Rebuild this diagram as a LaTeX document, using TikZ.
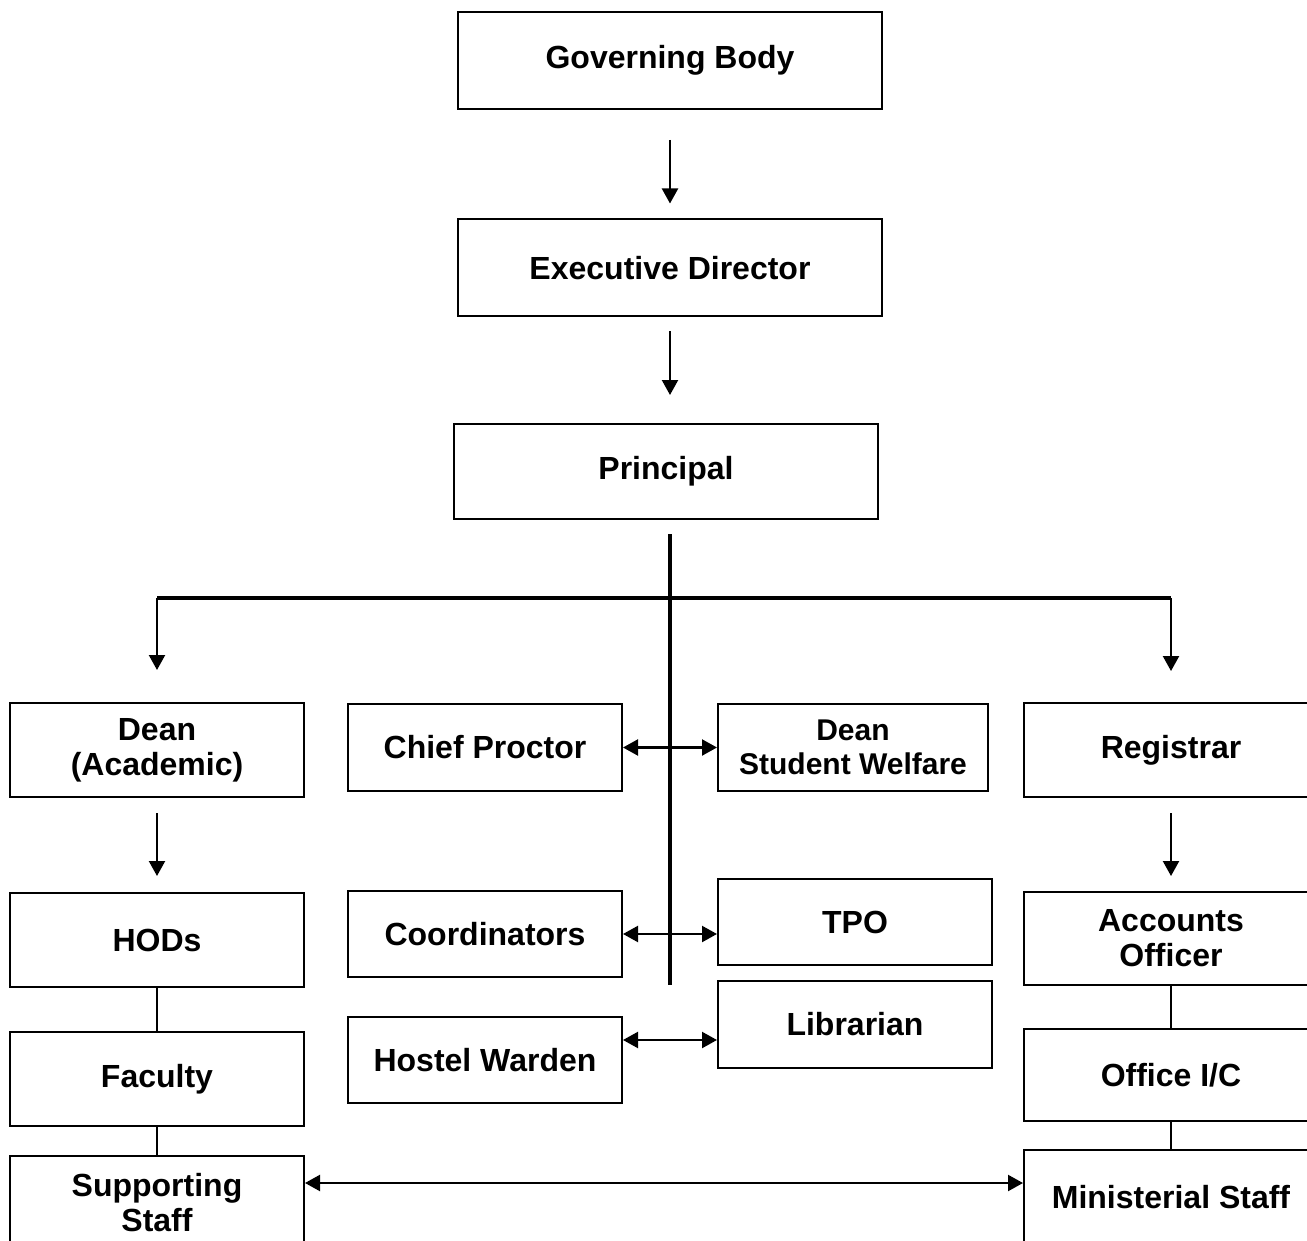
\documentclass[tikz,border=0pt]{standalone}
\usepackage{fontspec}
\setmainfont{Liberation Sans}
\usetikzlibrary{arrows.meta,calc}

\begin{document}
\begin{tikzpicture}[x=0.5pt, y=-0.5pt,
  box/.style={draw, line width=1pt, minimum width=147pt, minimum height=47pt,
    align=center, inner sep=2pt, font=\fontsize{16}{17.5}\selectfont\bfseries},
  wide/.style={box, minimum width=212pt, minimum height=48.5pt},
  arr/.style={line width=1.1pt, -{Triangle[length=7.5pt,width=8pt]}},
  dbl/.style={line width=1.1pt, {Triangle[length=7.5pt,width=8pt]}-{Triangle[length=7.5pt,width=8pt]}},
  bus/.style={line width=2.2pt},
  link/.style={line width=1pt}]
\useasboundingbox (0,0) rectangle (1307,1241);
\clip (0,0) rectangle (1307,1241);

% top chain
\node [wide] (gb) at (670, 60.5) {Governing Body};
\node [wide] (ed) at (670, 268) {Executive Director};
\node [wide, minimum height=47.5pt] (pr) at (666, 471.5) {Principal};

\draw [arr, shorten <=15pt, shorten >=7.5pt] (gb.south -| 670,0) -- (ed.north -| 670,0);
\draw [arr, shorten <=7pt, shorten >=14pt] (ed.south -| 670,0) -- (pr.north -| 670,0);

% main bus
\coordinate (top) at (670, 534);
\coordinate (hub) at (670, 598);
\coordinate (foot) at (670, 985);

% left column
\node [box] (dean) at (157, 750) {Dean\\(Academic)};
\node [box] (hods) at (157, 940) {HODs};
\node [box] (fac) at (157, 1079) {Faculty};
\node [box] (sup) at (157, 1203) {Supporting\\Staff};

% middle
\node [box, minimum width=137pt, minimum height=43.5pt] (cp) at (485, 747.5) {Chief Proctor};
\node [box, minimum width=135pt, minimum height=43.5pt,
  font=\fontsize{15}{17}\selectfont\bfseries] (dsw) at (853, 747.5) {Dean\\Student Welfare};
\node [box, minimum width=137pt, minimum height=43pt] (coord) at (485, 934) {Coordinators};
\node [box, minimum width=137pt, minimum height=43pt] (tpo) at (855, 922) {TPO};
\node [box, minimum width=137pt, minimum height=43pt] (hw) at (485, 1060) {Hostel Warden};
\node [box, minimum width=137pt, minimum height=43.5pt] (lib) at (855, 1024.5) {Librarian};

% right column
\node [box] (reg) at (1171, 750) {Registrar};
\node [box, minimum height=46.5pt] (acc) at (1171, 938.5) {Accounts\\Officer};
\node [box, minimum height=46pt] (off) at (1171, 1075) {Office I/C};
\node [box] (min) at (1171, 1197) {Ministerial Staff};

% connectors
\draw [bus] (top) -- (foot);
\draw [bus] (dean.north |- hub) -- (reg.north |- hub);
\draw [arr, shorten >=16pt] (dean.north |- hub) -- (dean.north);
\draw [arr, shorten >=15.5pt] (reg.north |- hub) -- (reg.north);

\draw [arr, shorten <=7.5pt, shorten >=8pt] (dean) -- (hods);
\draw [link] (hods) -- (fac);
\draw [link] (fac) -- (sup);

\draw [arr, shorten <=7.5pt, shorten >=7.5pt] (reg) -- (acc);
\draw [link] (acc) -- (off);
\draw [link] (off) -- (min);

\draw [dbl] (cp.east) -- (cp.east -| dsw.west);
\draw [dbl] (coord.east) -- (coord.east -| tpo.west);
\draw [dbl] ([yshift=10pt]hw.east) -- ([yshift=10pt]hw.east -| lib.west);
\draw [dbl] ([yshift=10pt]sup.east) -- ([yshift=10pt]sup.east -| min.west);

\end{tikzpicture}
\end{document}
